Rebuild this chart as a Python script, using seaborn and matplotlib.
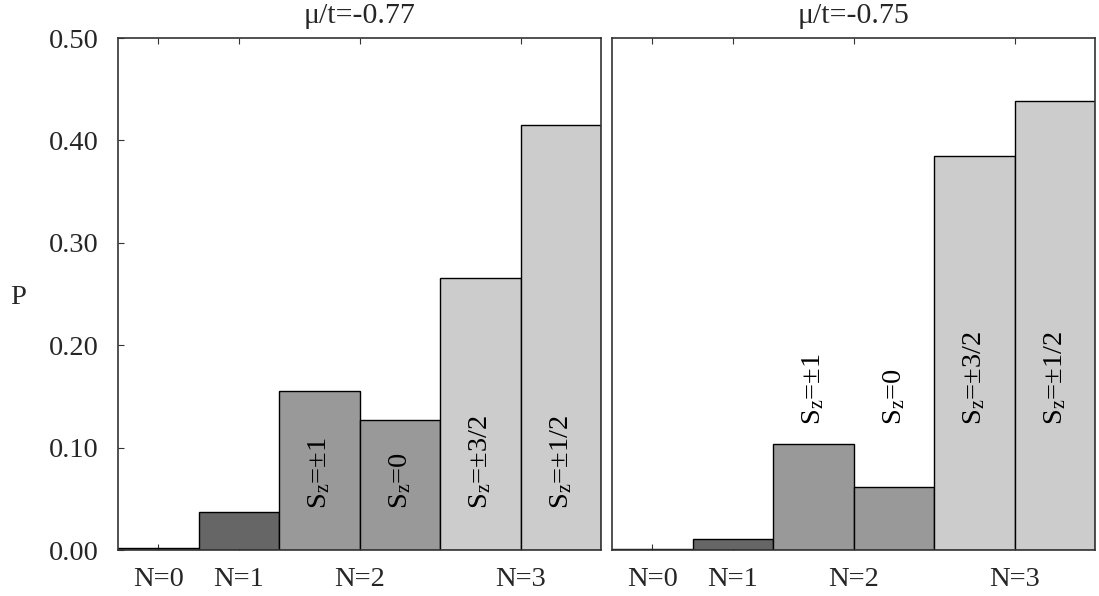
import matplotlib
matplotlib.use("Agg")
import matplotlib.pyplot as plt
import seaborn as sns
import pandas as pd

sns.set_style("white")
plt.rcParams['font.family'] = ['Liberation Serif', 'DejaVu Serif']
plt.rcParams['mathtext.fontset'] = 'custom'
plt.rcParams['mathtext.rm'] = 'Liberation Serif'
plt.rcParams['mathtext.it'] = 'Liberation Serif'

# ---- data ----
bar_ids = ["N0", "N1", "N2a", "N2b", "N3a", "N3b"]
bar_groups = ["N=0", "N=1", "N=2", "N=2", "N=3", "N=3"]
values_left = [0.002, 0.037, 0.155, 0.127, 0.266, 0.415]
values_right = [0.001, 0.011, 0.104, 0.062, 0.385, 0.438]
titles = ["μ/t=-0.77", "μ/t=-0.75"]
group_labels = ["N=0", "N=1", "N=2", "N=3"]
group_pos = [0, 1, 2.5, 4.5]
sz_labels = ["S$_\\mathrm{z}$=±1", "S$_\\mathrm{z}$=0", "S$_\\mathrm{z}$=±3/2", "S$_\\mathrm{z}$=±1/2"]
sz_label_y = [0.04, 0.122]
yticks = [0.0, 0.1, 0.2, 0.3, 0.4, 0.5]

group_colors = {"N=0": "#666666", "N=1": "#666666", "N=2": "#999999", "N=3": "#cccccc"}

fig = plt.figure(figsize=(10.99, 5.96), dpi=100)
ax1 = fig.add_axes([118/1099, 1-550/596, 483/1099, 512/596])
ax2 = fig.add_axes([612/1099, 1-550/596, 483/1099, 512/596])

FS = 20.5
for i, (ax, vals) in enumerate(zip([ax1, ax2], [values_left, values_right])):
    df = pd.DataFrame({"bar": bar_ids, "group": bar_groups, "P": vals})
    sns.barplot(data=df, x="bar", y="P", hue="group", order=bar_ids,
                palette=group_colors, width=1.0, edgecolor="black",
                linewidth=1.0, legend=False, dodge=False, ax=ax, saturation=1)
    ax.set_axisbelow(True)
    ax.set_xlim(-0.5, 5.5)
    ax.set_ylim(0, 0.5)
    ax.set_xlabel("")
    ax.set_ylabel("")
    ax.set_xticks(group_pos)
    ax.set_xticklabels(group_labels, fontsize=FS)
    ax.tick_params(axis='x', which='major', direction='in', length=4,
                   top=True, bottom=True, color='#333333', pad=12)
    ax.set_yticks(yticks)
    if i == 0:
        ax.set_yticklabels([f"{t:.2f}" for t in yticks], fontsize=FS)
        ax.tick_params(axis='y', direction='in', length=4, left=True, right=False,
                       color='#333333', pad=14)
    else:
        ax.set_yticklabels([])
        ax.tick_params(axis='y', left=False, right=False)
    for s in ax.spines.values():
        s.set_color('#333333')
        s.set_linewidth(1.2)
        s.set_visible(True)
    ax.set_title(titles[i], fontsize=21.5, pad=11)
    for k, lab in enumerate(sz_labels):
        ax.text(k + 2, sz_label_y[i], lab, rotation=90, ha='center', va='bottom',
                fontsize=FS, color='black')

fig.text(18/1099, 1-297/596, "P", fontsize=FS, ha='center', va='center')

fig.savefig("out.png", dpi=100, facecolor='white')
